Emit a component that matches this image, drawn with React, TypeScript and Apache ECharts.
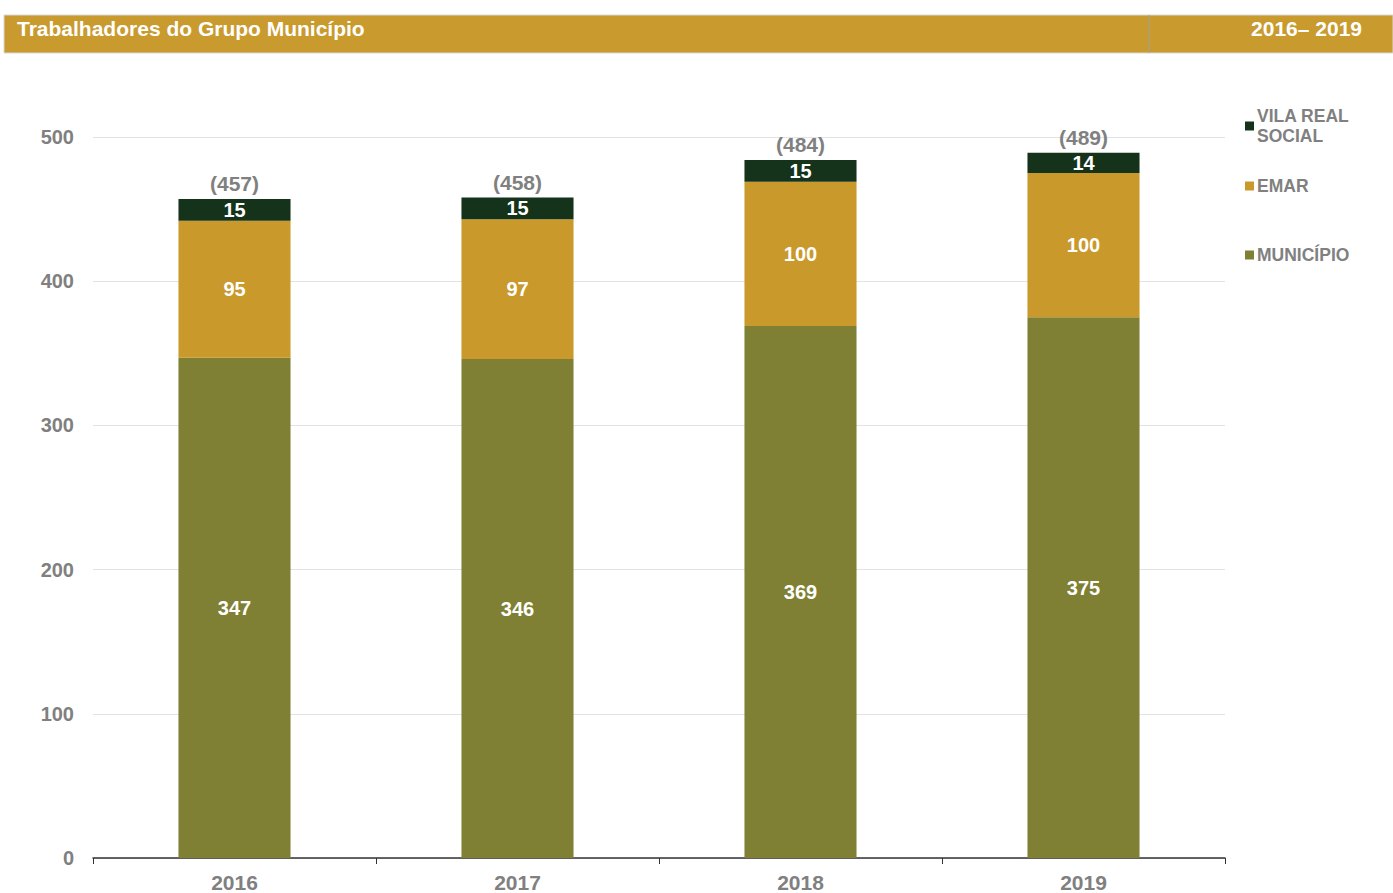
import React, { useEffect, useRef } from "react";
import * as echarts from "echarts";

const years = ["2016", "2017", "2018", "2019"];
const municipio = [347, 346, 369, 375];
const emar = [95, 97, 100, 100];
const vilaReal = [15, 15, 15, 14];
const totals = [457, 458, 484, 489];
const yTicks = [0, 100, 200, 300, 400, 500];

const FONT = "'Liberation Sans', Arial, sans-serif";
const GRAY = "#808080";
const C_MUN = "#7f8033";
const C_EMAR = "#c9992b";
const C_VRS = "#15321a";

export default function App() {
  const ref = useRef<HTMLDivElement>(null);
  useEffect(() => {
    const chart = echarts.init(ref.current!, undefined, { renderer: "svg" });
    const inside = {
      show: true,
      position: "inside",
      color: "#ffffff",
      fontFamily: FONT,
      fontWeight: "bold",
      fontSize: 20,
    };
    const legendBase = {
      orient: "vertical",
      left: 1240,
      icon: "rect",
      itemWidth: 9,
      itemHeight: 9,
      itemGap: 0,
      selectedMode: false,
      textStyle: {
        color: GRAY,
        fontFamily: FONT,
        fontWeight: "bold",
        fontSize: 17.5,
        lineHeight: 20,
        padding: [0, 0, 0, -2],
      },
    };
    chart.setOption({
      animation: false,
      textStyle: { fontFamily: FONT },
      graphic: [
        {
          type: "rect",
          shape: { x: 4, y: 15, width: 1389, height: 38 },
          style: { fill: "#c99a2d", stroke: "#d8d8d8", lineWidth: 1 },
        },
        {
          type: "line",
          shape: { x1: 1149, y1: 15, x2: 1149, y2: 53 },
          style: { stroke: "#a0a0a0", lineWidth: 1 },
        },
        {
          type: "text",
          x: 17,
          y: 28,
          style: {
            text: "Trabalhadores do Grupo Município",
            fill: "#ffffff",
            font: `bold 21px ${FONT}`,
            verticalAlign: "middle",
          },
        },
        {
          type: "text",
          x: 1362,
          y: 28,
          style: {
            text: "2016– 2019",
            fill: "#ffffff",
            font: `bold 21px ${FONT}`,
            align: "right",
            verticalAlign: "middle",
          },
        },
      ],
      legend: [
        { ...legendBase, top: 101, data: ["VILA REAL\nSOCIAL"] },
        { ...legendBase, top: 171, data: ["EMAR"] },
        { ...legendBase, top: 240, data: ["MUNICÍPIO"] },
      ],
      grid: { left: 93, right: 168, top: 137, bottom: 34, containLabel: false },
      xAxis: {
        type: "category",
        data: years,
        axisLine: { lineStyle: { color: "#333333", width: 1.5 } },
        axisTick: { show: true, alignWithLabel: false, length: 6, inside: false, lineStyle: { color: "#333333" } },
        axisLabel: {
          color: GRAY,
          fontFamily: FONT,
          fontWeight: "bold",
          fontSize: 21,
          margin: 14,
        },
      },
      yAxis: {
        type: "value",
        min: 0,
        max: 500,
        interval: 100,
        axisLine: { show: false },
        axisTick: { show: false },
        splitLine: { lineStyle: { color: "#e2e2ea", width: 1 } },
        axisLabel: {
          color: GRAY,
          fontFamily: FONT,
          fontWeight: "bold",
          fontSize: 20,
          margin: 19,
          formatter: (v: number) => (yTicks.includes(v) ? String(v) : ""),
        },
      },
      series: [
        {
          name: "MUNICÍPIO",
          type: "bar",
          stack: "t",
          barWidth: "39.6%",
          data: municipio,
          itemStyle: { color: C_MUN },
          label: inside,
        },
        {
          name: "EMAR",
          type: "bar",
          stack: "t",
          data: emar,
          itemStyle: { color: C_EMAR },
          label: inside,
        },
        {
          name: "VILA REAL\nSOCIAL",
          type: "bar",
          stack: "t",
          data: vilaReal,
          itemStyle: { color: C_VRS },
          label: inside,
        },
        {
          name: "total",
          type: "bar",
          stack: "t",
          data: totals.map(() => 0),
          itemStyle: { color: "transparent" },
          label: {
            show: true,
            position: "top",
            distance: 5,
            color: GRAY,
            fontFamily: FONT,
            fontWeight: "bold",
            fontSize: 21,
            formatter: (p: any) => `(${totals[p.dataIndex]})`,
          },
        },
      ],
    });
    return () => chart.dispose();
  }, []);
  return (
    <div
      ref={ref}
      style={{ position: "fixed", left: 0, top: 0, width: 1393, height: 893, background: "#ffffff" }}
    />
  );
}
